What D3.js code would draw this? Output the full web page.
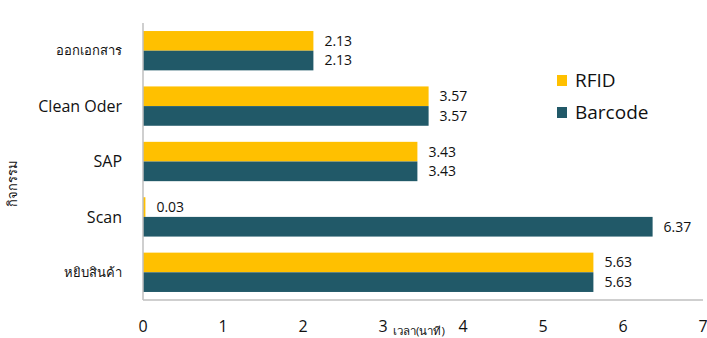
<!DOCTYPE html>
<html>
<head>
<meta charset="utf-8">
<title>RFID vs Barcode</title>
<script src="https://d3js.org/d3.v7.min.js"></script>
<style>
  body { margin: 0; background: #fff; }
  text { font-family: "Open Sans", "Noto Sans", sans-serif; fill: #111; }
</style>
</head>
<body>
<div id="chart"></div>
<script>
var categories = ["ออกเอกสาร", "Clean Oder", "SAP", "Scan", "หยิบสินค้า"];
var seriesNames = ["RFID", "Barcode"];
var rfidValues = [2.13, 3.57, 3.43, 0.03, 5.63];
var barcodeValues = [2.13, 3.57, 3.43, 6.37, 5.63];
var xTicks = [0, 1, 2, 3, 4, 5, 6, 7];

var colors = {RFID: "#FFC000", Barcode: "#215968"};

var w = 707, h = 338;
var margin = {top: 23, right: 4, bottom: 38, left: 143};
var wChart = w - margin.left - margin.right;
var hChart = h - margin.top - margin.bottom;

var svg = d3.select("#chart").append("svg")
    .attr("width", w)
    .attr("height", h);

var chart = svg.append("g")
    .attr("transform", "translate(" + margin.left + "," + margin.top + ")");

var x = d3.scaleLinear().domain([0, 7]).range([0, 560]);

var y = d3.scaleBand().domain(categories).range([0, hChart]).paddingInner(0.29).paddingOuter(0.145);

var y1 = d3.scaleBand().domain(seriesNames).range([0, y.bandwidth()]);

var rows = categories.map(function(c, i) {
    return {cat: c, vals: [{s: "RFID", v: rfidValues[i]}, {s: "Barcode", v: barcodeValues[i]}]};
});

// bars
var groups = chart.selectAll(".grp")
    .data(rows)
    .enter().append("g")
    .attr("class", "grp")
    .attr("transform", function(d) { return "translate(0," + y(d.cat) + ")"; });

groups.selectAll("rect")
    .data(function(d) { return d.vals; })
    .enter().append("rect")
    .attr("x", 0)
    .attr("y", function(d) { return y1(d.s); })
    .attr("width", function(d) { return x(d.v); })
    .attr("height", y1.bandwidth())
    .attr("fill", function(d) { return colors[d.s]; });

groups.selectAll(".lbl")
    .data(function(d) { return d.vals; })
    .enter().append("text")
    .attr("class", "lbl")
    .attr("x", function(d) { return x(d.v) + 11; })
    .attr("y", function(d) { return y1(d.s) + y1.bandwidth() / 2; })
    .attr("dy", "0.35em")
    .style("font-size", "14px")
    .text(function(d) { return d.v.toFixed(2); });

// axes
chart.append("line")
    .attr("x1", 0).attr("x2", 560)
    .attr("y1", hChart).attr("y2", hChart)
    .attr("stroke", "#bfbfbf").attr("stroke-width", 1.5);

chart.append("line")
    .attr("x1", 0).attr("x2", 0)
    .attr("y1", 0).attr("y2", hChart)
    .attr("stroke", "#bfbfbf").attr("stroke-width", 1.5);

chart.selectAll(".xt")
    .data(xTicks)
    .enter().append("text")
    .attr("class", "xt")
    .attr("x", function(d) { return x(d); })
    .attr("y", hChart + 26)
    .attr("dy", "0.35em")
    .attr("text-anchor", "middle")
    .style("font-size", "16px")
    .text(function(d) { return d; });

chart.selectAll(".yt")
    .data(categories)
    .enter().append("text")
    .attr("class", "yt")
    .attr("x", -21)
    .attr("y", function(d) { return y(d) + y.bandwidth() / 2; })
    .attr("dy", "0.35em")
    .attr("text-anchor", "end")
    .style("font-size", function(d) { return /[a-z]/i.test(d) ? "16px" : "13px"; })
    .text(function(d) { return d; });

// axis titles
svg.append("text")
    .attr("transform", "translate(17,183) rotate(-90)")
    .attr("text-anchor", "middle")
    .style("font-size", "13px")
    .text("กิจกรรม");

svg.append("text")
    .attr("x", 419)
    .attr("y", 335)
    .attr("text-anchor", "middle")
    .style("font-size", "11.5px")
    .text("เวลา(นาที)");

// legend
var legend = svg.selectAll(".leg")
    .data(seriesNames)
    .enter().append("g")
    .attr("class", "leg")
    .attr("transform", function(d, i) { return "translate(557," + (75 + i * 32) + ")"; });

legend.append("rect")
    .attr("width", 10).attr("height", 11)
    .attr("fill", function(d) { return colors[d]; });

legend.append("text")
    .attr("x", 18)
    .attr("y", 5.5)
    .attr("dy", "0.35em")
    .style("font-size", "19px")
    .text(function(d) { return d; });
</script>
</body>
</html>
